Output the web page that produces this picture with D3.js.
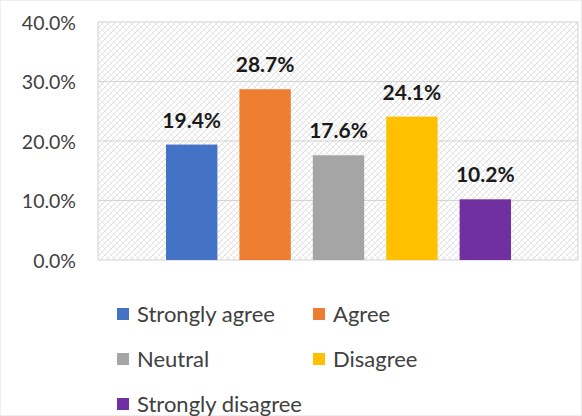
<!DOCTYPE html>
<html>
<head>
<meta charset="utf-8">
<script src="https://cdn.jsdelivr.net/npm/d3@7/dist/d3.min.js"></script>
<style>
  html, body { margin: 0; padding: 0; background: #fff; }
  svg { display: block; }
</style>
</head>
<body>
<svg id="chart" width="582" height="416"></svg>
<script>
// Survey responses, share of respondents per answer
const categories = ["Strongly agree", "Agree", "Neutral", "Disagree", "Strongly disagree"];
const values = [19.4, 28.7, 17.6, 24.1, 10.2];
const colors = ["#4472C4", "#ED7D31", "#A5A5A5", "#FFC000", "#7030A0"];
const yTicks = [0, 10, 20, 30, 40];

const svg = d3.select("#chart");
const W = 582, H = 416;
const plot = { left: 98, right: 578, top: 22, bottom: 260 };
const FONT = "Lato, 'Open Sans', sans-serif";

// faint outer frame of the chart area
svg.append("rect").attr("x", 0.5).attr("y", 0.5).attr("width", W - 1).attr("height", H - 1)
  .attr("fill", "#fff").attr("stroke", "#eeeeee");

// light diagonal cross-hatch fill for the plot area
const defs = svg.append("defs");
const pat = defs.append("pattern").attr("id", "hatch")
  .attr("patternUnits", "userSpaceOnUse").attr("width", 6).attr("height", 6);
pat.append("rect").attr("width", 6).attr("height", 6).attr("fill", "#ffffff");
pat.append("path").attr("d", "M0,6 L6,0 M-1,1 L1,-1 M5,7 L7,5")
  .attr("stroke", "#d6d6d6").attr("stroke-width", 0.8);
pat.append("path").attr("d", "M0,0 L6,6 M-1,5 L1,7 M5,-1 L7,1")
  .attr("stroke", "#e6e6e6").attr("stroke-width", 0.6);

const y = d3.scaleLinear().domain([0, 40]).range([plot.bottom, plot.top]);
const x = d3.scaleBand().domain(categories)
  .range([155, 522]).paddingInner(0.3).paddingOuter(0.15);

svg.append("rect")
  .attr("x", plot.left).attr("y", plot.top)
  .attr("width", plot.right - plot.left).attr("height", plot.bottom - plot.top)
  .attr("fill", "url(#hatch)").attr("stroke", "#d9d9d9").attr("stroke-width", 1.2);

// horizontal gridlines
svg.append("g").selectAll("line").data(yTicks.slice(1, -1)).join("line")
  .attr("x1", plot.left).attr("x2", plot.right)
  .attr("y1", d => y(d)).attr("y2", d => y(d))
  .attr("stroke", "#d4d4d4").attr("stroke-width", 1.2);

// y axis labels
const yAxis = d3.axisLeft(y).tickValues(yTicks).tickSize(0).tickPadding(0)
  .tickFormat(d => d3.format(".1f")(d) + "%");
const ya = svg.append("g").attr("transform", "translate(76,0)").call(yAxis);
ya.select(".domain").remove();
ya.selectAll("text").attr("font-family", FONT)
  .attr("font-size", 19.5).attr("fill", "#404040").attr("dy", "0.36em");

// bars
svg.append("g").selectAll("rect").data(categories).join("rect")
  .attr("x", d => x(d)).attr("width", x.bandwidth())
  .attr("y", (d, i) => y(values[i]))
  .attr("height", (d, i) => y(0) - y(values[i]))
  .attr("fill", (d, i) => colors[i]);

// value labels
svg.append("g").selectAll("text").data(categories).join("text")
  .attr("x", d => x(d) + x.bandwidth() / 2)
  .attr("y", (d, i) => y(values[i]) - 17)
  .attr("text-anchor", "middle")
  .attr("font-family", FONT)
  .attr("font-weight", "bold").attr("font-size", 21).attr("fill", "#1a1a1a")
  .text((d, i) => d3.format(".1f")(values[i]) + "%");

// legend: two columns, three rows
const legend = svg.append("g");
const colX = [117, 313], rowY = [322, 367, 412];
const items = legend.selectAll("g").data(categories).join("g")
  .attr("transform", (d, i) => `translate(${colX[i % 2]},${rowY[Math.floor(i / 2)]})`);
items.append("rect").attr("x", 0).attr("y", -14).attr("width", 12).attr("height", 12)
  .attr("fill", (d, i) => colors[i]);
items.append("text").attr("x", 20).attr("y", 0)
  .attr("font-family", FONT)
  .attr("font-size", 22).attr("fill", "#404040")
  .text(d => d);
</script>
</body>
</html>
